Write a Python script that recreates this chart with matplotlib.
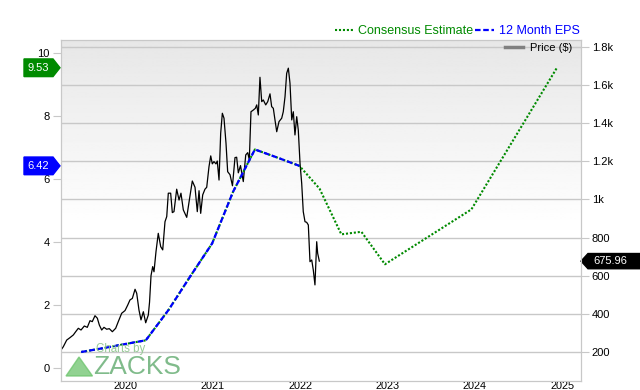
import numpy as np
import matplotlib.pyplot as plt
from matplotlib.lines import Line2D
from matplotlib.patches import Polygon
import matplotlib.transforms as mtransforms

plt.rcParams['font.family'] = ['Liberation Sans', 'DejaVu Sans']

# 12 Month EPS (left axis), x in decimal years
eps_x = [2019.49, 2019.74, 2019.99, 2020.23, 2020.49, 2020.74, 2020.99,
         2021.23, 2021.48, 2021.74, 2021.99]
eps_y = [0.52, 0.64, 0.77, 0.89, 1.85, 2.92, 3.96, 5.60, 6.94, 6.68, 6.42]

# consensus estimate after the last reported quarter
fc_x = [2022.22, 2022.47, 2022.70, 2022.97, 2023.96, 2024.94]
fc_y = [5.70, 4.25, 4.33, 3.30, 5.04, 9.53]

# price (right axis)
price_x = [2019.259, 2019.285, 2019.324, 2019.362, 2019.400, 2019.427, 2019.457,
           2019.488, 2019.526, 2019.560, 2019.591, 2019.617, 2019.648, 2019.675,
           2019.698, 2019.725, 2019.751, 2019.782, 2019.812, 2019.847, 2019.885,
           2019.915, 2019.954, 2019.992, 2020.023, 2020.049, 2020.076, 2020.107,
           2020.126, 2020.152, 2020.175, 2020.202, 2020.229, 2020.259, 2020.273,
           2020.290, 2020.309, 2020.324, 2020.347, 2020.373, 2020.401, 2020.424,
           2020.450, 2020.470, 2020.488, 2020.515, 2020.534, 2020.553, 2020.584,
           2020.611, 2020.633, 2020.660, 2020.699, 2020.729, 2020.763, 2020.794,
           2020.820, 2020.840, 2020.859, 2020.882, 2020.908, 2020.928, 2020.954,
           2020.974, 2020.992, 2021.011, 2021.034, 2021.049, 2021.069, 2021.088,
           2021.107, 2021.126, 2021.149, 2021.168, 2021.195, 2021.223, 2021.252,
           2021.271, 2021.290, 2021.315, 2021.347, 2021.375, 2021.398, 2021.416,
           2021.435, 2021.462, 2021.485, 2021.501, 2021.519, 2021.538, 2021.558,
           2021.576, 2021.604, 2021.627, 2021.653, 2021.672, 2021.691, 2021.710,
           2021.730, 2021.756, 2021.787, 2021.805, 2021.825, 2021.844, 2021.863,
           2021.882, 2021.902, 2021.920, 2021.939, 2021.959, 2021.977, 2021.997,
           2022.016, 2022.034, 2022.054, 2022.073, 2022.092, 2022.111, 2022.131,
           2022.149, 2022.168, 2022.188, 2022.199, 2022.218]
price_y = [209, 226, 261, 274, 288, 305, 323,
           314, 335, 328, 363, 358, 389, 376,
           340, 314, 328, 318, 321, 305, 323,
           358, 402, 416, 445, 472, 480, 528,
           507, 419, 367, 410, 352, 393, 460,
           600, 647, 620, 726, 822, 752, 735,
           883, 910, 1033, 1033, 931, 936, 1054,
           997, 1033, 945, 906, 997, 1097, 1064,
           936, 1046, 927, 1024, 1054, 1064, 1172,
           1229, 1187, 1199, 1187, 1202, 1102, 1348,
           1453, 1427, 1295, 1146, 1130, 1072, 1220,
           1222, 1140, 1178, 1094, 1234, 1246, 1208,
           1461, 1470, 1479, 1497, 1444, 1642, 1514,
           1523, 1497, 1514, 1555, 1488, 1479, 1418,
           1356, 1409, 1427, 1461, 1540, 1663, 1690,
           1611, 1418, 1461, 1339, 1435, 1365, 1190,
           1085, 936, 883, 880, 866, 673, 682,
           629, 551, 778, 717, 676]

year_ticks = [2020, 2021, 2022, 2023, 2024, 2025]
eps_ticks = [0, 2, 4, 6, 8, 10]
price_ticks = [200, 400, 600, 800, 1000, 1200, 1400, 1600, 1800]
price_labels = ['200', '400', '600', '800', '1k', '1.2k', '1.4k', '1.6k', '1.8k']

green = '#008a00'
blue = '#0000ff'
grid_c = '#c8c8c8'

fig = plt.figure(figsize=(6.4, 3.9), dpi=100)
ax = fig.add_axes([60.5 / 640, 1 - 381 / 390, 520 / 640, 341 / 390])
ax2 = ax.twinx()
ax.set_zorder(2)
ax2.set_zorder(1)
ax.patch.set_visible(False)

# gray-to-white background
t = np.linspace(0, 1, 256)
shade = np.where(t < 0.45, 1.0, 1.0 - (t - 0.45) / 0.55 * 0.095)
ax2.imshow(shade[:, None], cmap='gray', vmin=0, vmax=1, origin='lower',
           extent=(0, 1, 0, 1), transform=ax2.transAxes, aspect='auto', zorder=0)

ax2.plot(price_x, price_y, color='black', lw=0.9, zorder=3)

cons_x = eps_x + fc_x
cons_y = eps_y + fc_y
ax.plot(cons_x, cons_y, color=green, lw=1.5, ls=(0, (1, 0.9)), zorder=3)
ax.plot(eps_x, eps_y, color=blue, lw=1.6, ls=(0, (2.5, 1.2)), zorder=4)

ax.set_xlim(2019.253, 2025.21)
ax.set_ylim(-0.40, 10.41)
ax2.set_ylim(46, 1838)
ax.set_xticks(year_ticks)
ax.set_xticklabels([str(y) for y in year_ticks])
ax.set_yticks(eps_ticks)
ax2.set_yticks(price_ticks)
ax2.set_yticklabels(price_labels)

ax2.grid(True, color=grid_c, lw=1)
ax2.set_axisbelow(True)
for a in (ax, ax2):
    for s in a.spines.values():
        s.set_color(grid_c)
ax.tick_params(axis='y', length=6, color=grid_c, labelsize=8, pad=2)
ax.tick_params(axis='x', length=0, labelsize=7.8, pad=0.2)
ax2.tick_params(axis='y', length=6, color=grid_c, labelsize=8, pad=2)

# value tags
tl = mtransforms.blended_transform_factory(ax.transAxes, ax.transData)
for val, col in [(9.53, green), (6.42, blue)]:
    h = 0.28
    ax.add_patch(Polygon([(-0.0702, val - h), (-0.0144, val - h), (-0.001, val),
                          (-0.0144, val + h), (-0.0702, val + h)],
                         closed=True, transform=tl, color=col, clip_on=False, zorder=6))
    ax.text(-0.043, val, f'{val:.2f}', transform=tl, color='white', fontsize=8,
            ha='center', va='center', clip_on=False, zorder=7)

tr = mtransforms.blended_transform_factory(ax2.transAxes, ax2.transData)
last = 675.96
ax2.add_patch(Polygon([(1.001, last), (1.0144, last - 40), (1.16, last - 40),
                       (1.16, last + 40), (1.0144, last + 40)],
                      closed=True, transform=tr, color='black', clip_on=False, zorder=6))
ax2.text(1.057, last, f'{last:.2f}', transform=tr, color='white', fontsize=8,
         ha='center', va='center', clip_on=False, zorder=7)

# legends
h1 = Line2D([], [], color=green, lw=1.5, ls=(0, (1, 0.9)))
h2 = Line2D([], [], color=blue, lw=1.6, ls=(0, (2.5, 1.2)))
leg = ax.legend([h1, h2], ['Consensus Estimate', '12 Month EPS'], loc='lower right',
                bbox_to_anchor=(1.004, 1.0), ncol=2, frameon=False, fontsize=9,
                handlelength=1.5, handletextpad=0.4, columnspacing=0.15,
                borderpad=0.2, borderaxespad=0.0, labelcolor=[green, blue])
ax.add_artist(leg)
h3 = Line2D([], [], color='#808080', lw=2.5)
ax.legend([h3], ['Price ($)'], loc='upper right', bbox_to_anchor=(0.99, 1.0),
          frameon=False, fontsize=8, handlelength=1.6, handletextpad=0.6,
          borderpad=0.3, borderaxespad=0.0)

# watermark
fig.patches.append(Polygon([(66 / 640, 1 - 376 / 390), (79 / 640, 1 - 357 / 390),
                            (92.5 / 640, 1 - 376 / 390)], closed=True,
                           transform=fig.transFigure, color='#6cc46c', alpha=0.75,
                           zorder=10))
fig.text(121 / 640, 1 - 349 / 390, 'Charts by', color='#8cc48c', fontsize=8.3,
         ha='center', va='center', alpha=0.9, zorder=10)
fig.text(93 / 640, 1 - 366.5 / 390, 'ZACKS', color='#72b47e', fontsize=19,
         ha='left', va='center', alpha=0.9, zorder=10)

fig.savefig('out.png', dpi=100)
